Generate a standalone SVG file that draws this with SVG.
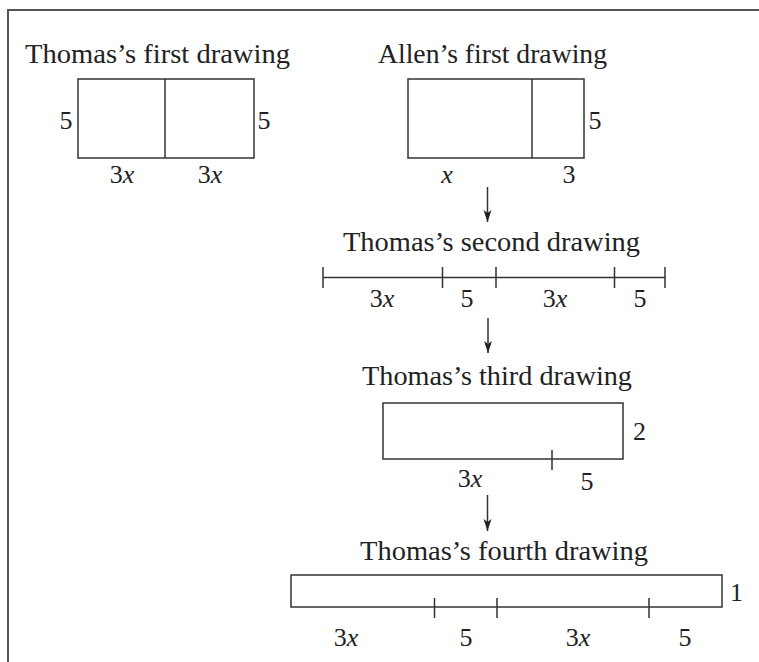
<svg xmlns="http://www.w3.org/2000/svg" width="759" height="662" viewBox="0 0 759 662">
<defs>
<style>
.t{font-size:28px}
.l{font-size:26px;text-anchor:middle}
.i{font-style:italic}
.s{fill:none;stroke:#333;stroke-width:1.5}
</style>
<marker id="ah" markerWidth="14" markerHeight="10" refX="12" refY="5" orient="auto" markerUnits="userSpaceOnUse" viewBox="0 0 14 10">
<path d="M0,1 L12,5 L0,9 L3,5 Z" fill="#222"/>
</marker>
</defs>
<rect width="759" height="662" fill="#fff"/>
<path d="M8,662 V10 H759" fill="none" stroke="#555" stroke-width="2"/>
<g font-family="Liberation Serif" fill="#222">
<g id="thomas1">
<text class="t" x="25" y="63" textLength="265" lengthAdjust="spacingAndGlyphs">Thomas’s first drawing</text>
<rect class="s" x="78" y="79" width="176" height="79"/>
<line class="s" x1="165" y1="79" x2="165" y2="158"/>
<text class="l" x="66" y="129">5</text>
<text class="l" x="264" y="129">5</text>
<text class="l" x="122" y="183">3<tspan class="i">x</tspan></text>
<text class="l" x="210" y="183">3<tspan class="i">x</tspan></text>
</g>
<g id="allen1">
<text class="t" x="378" y="63" textLength="229" lengthAdjust="spacingAndGlyphs">Allen’s first drawing</text>
<rect class="s" x="408" y="79" width="176" height="79"/>
<line class="s" x1="532" y1="79" x2="532" y2="158"/>
<text class="l" x="595" y="129">5</text>
<text class="l i" x="447" y="183">x</text>
<text class="l" x="569" y="183">3</text>
</g>
<g id="thomas2">
<text class="t" x="343" y="251" textLength="297" lengthAdjust="spacingAndGlyphs">Thomas’s second drawing</text>
<path class="s" d="M323,277.5 H665 M323,267 V288 M442.5,267 V288 M496,267 V288 M614.5,267 V288 M665,267 V288"/>
<text class="l" x="382" y="307">3<tspan class="i">x</tspan></text>
<text class="l" x="467" y="307">5</text>
<text class="l" x="555" y="307">3<tspan class="i">x</tspan></text>
<text class="l" x="640" y="307">5</text>
</g>
<g id="thomas3">
<text class="t" x="362" y="385" textLength="270" lengthAdjust="spacingAndGlyphs">Thomas’s third drawing</text>
<rect class="s" x="383" y="403" width="240" height="56"/>
<line class="s" x1="552" y1="450" x2="552" y2="470"/>
<text class="l" x="633" y="440" style="text-anchor:start">2</text>
<text class="l" x="470" y="487">3<tspan class="i">x</tspan></text>
<text class="l" x="587" y="490">5</text>
</g>
<g id="thomas4">
<text class="t" x="360" y="560" textLength="288" lengthAdjust="spacingAndGlyphs">Thomas’s fourth drawing</text>
<rect class="s" x="291" y="575" width="431" height="32"/>
<path class="s" d="M434.5,598 V618 M497,598 V618 M649,598 V618"/>
<text class="l" x="730" y="601" style="text-anchor:start">1</text>
<text class="l" x="346" y="646">3<tspan class="i">x</tspan></text>
<text class="l" x="466" y="646">5</text>
<text class="l" x="578" y="646">3<tspan class="i">x</tspan></text>
<text class="l" x="685" y="646">5</text>
</g>
</g>
<g id="connectors">
<line class="s" x1="487.5" y1="187" x2="487.5" y2="222" marker-end="url(#ah)"/>
<line class="s" x1="488" y1="318" x2="488" y2="353" marker-end="url(#ah)"/>
<line class="s" x1="487.5" y1="495" x2="487.5" y2="531" marker-end="url(#ah)"/>
</g>
</svg>
